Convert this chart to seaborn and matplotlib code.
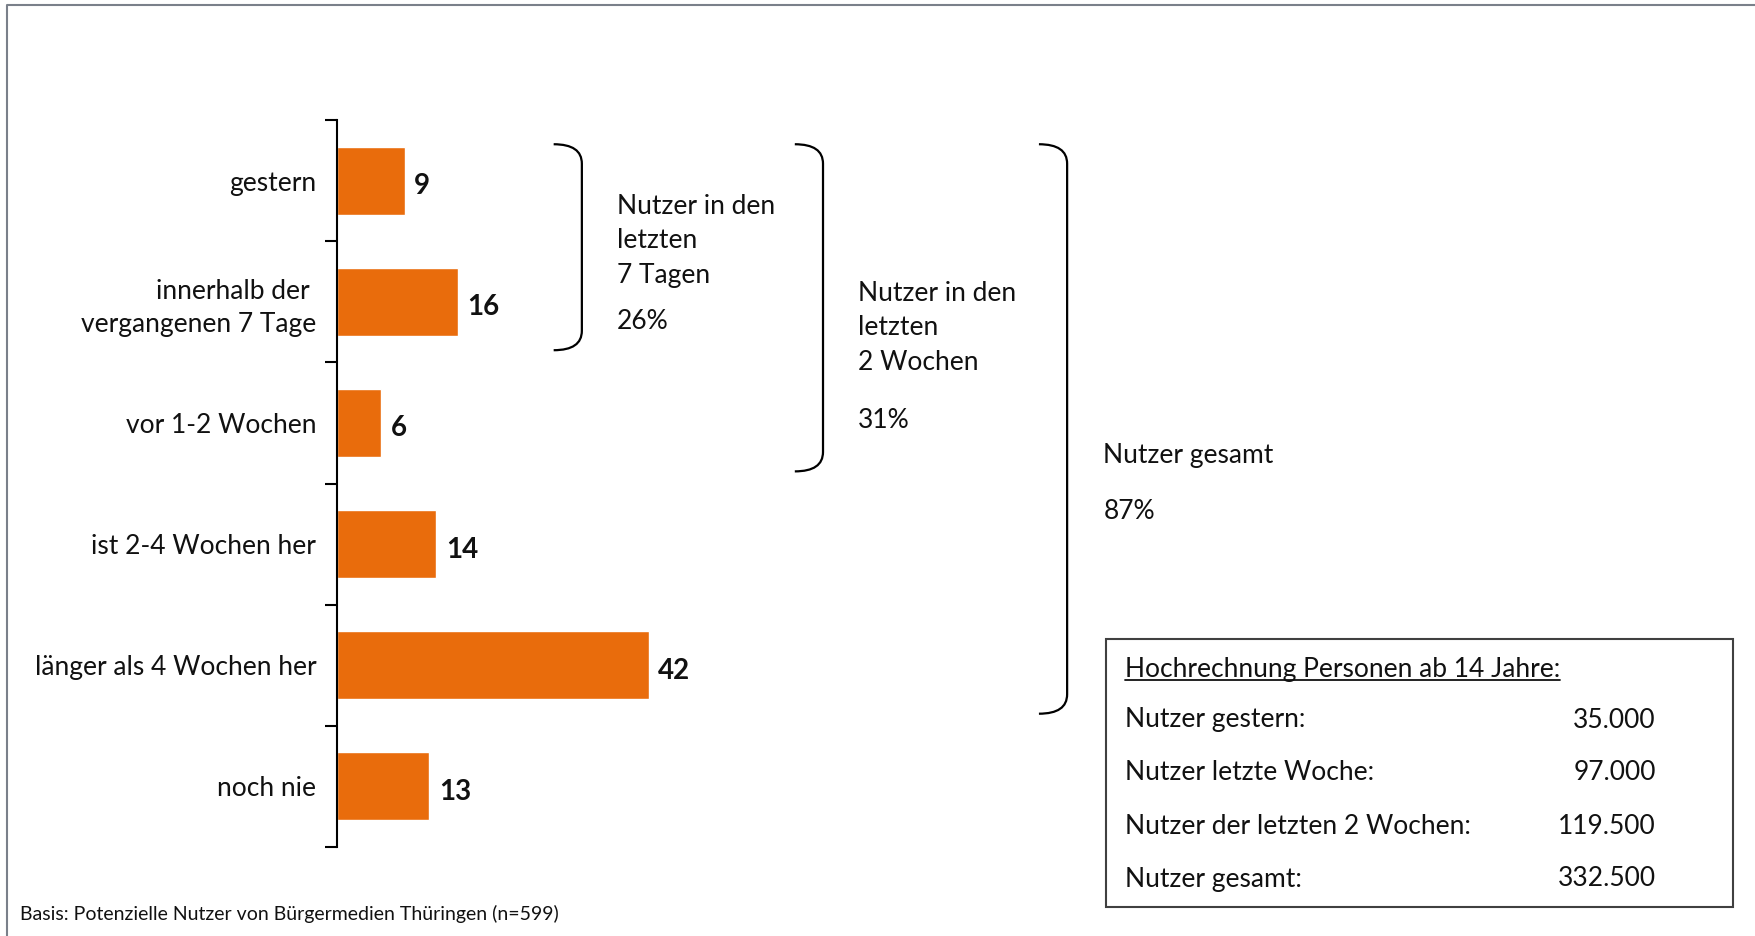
import matplotlib
matplotlib.use("Agg")
import matplotlib.pyplot as plt
import seaborn as sns
import pandas as pd
from matplotlib.path import Path
from matplotlib.patches import PathPatch, Rectangle
from matplotlib.lines import Line2D

# data (bar lengths, labels as printed)
categories = ["gestern", "innerhalb der \nvergangenen 7 Tage", "vor 1-2 Wochen",
              "ist 2-4 Wochen her", "länger als 4 Wochen her", "noch nie"]
values = [9.1, 16.3, 5.9, 13.4, 42.0, 12.4]
value_labels = ["9", "16", "6", "14", "42", "13"]

group_lines = [["Nutzer in den", "letzten", "7 Tagen"],
               ["Nutzer in den", "letzten", "2 Wochen"],
               ["Nutzer gesamt"]]
group_pct = ["26%", "31%", "87%"]
group_last = [1, 2, 4]

box_title = "Hochrechnung Personen ab 14 Jahre:"
box_labels = ["Nutzer gestern:", "Nutzer letzte Woche:", "Nutzer der letzten 2 Wochen:", "Nutzer gesamt:"]
box_values = ["35.000", "97.000", "119.500", "332.500"]

footnote = "Basis: Potenzielle Nutzer von Bürgermedien Thüringen (n=599)"

sns.set_style("white")
plt.rcParams["font.family"] = ["Lato", "DejaVu Sans"]

BAR = "#E96C0C"
TXT = "#111111"
W, H = 1755, 936
fig = plt.figure(figsize=(W / 100, H / 100), dpi=100)

ax = fig.add_axes([337 / W, 1 - 847 / H, 1 - 337 / W, (847 - 120) / H])
df = pd.DataFrame({"cat": categories, "val": values})
sns.barplot(data=df, x="val", y="cat", orient="h", color=BAR, saturation=1,
            width=0.56, ax=ax)
ax.set_xlim(0, 1418 / 7.42)
ax.set_ylim(5.5, -0.5)
ax.set_xlabel("")
ax.set_ylabel("")
for s in ["top", "right", "bottom"]:
    ax.spines[s].set_visible(False)
ax.spines["left"].set_color("black")
ax.spines["left"].set_linewidth(1.5)
ax.set_xticks([])
ax.set_yticks(range(len(categories)))
ax.set_yticklabels(categories, fontsize=19, color=TXT)
ax.set_yticks([i - 0.5 for i in range(len(categories) + 1)], minor=True)
ax.tick_params(axis="y", which="major", left=True, length=0, pad=15)
ax.tick_params(axis="y", which="minor", left=True, length=9, width=1.5,
               direction="out", color="black")
for lab in ax.get_yticklabels():
    lab.set_multialignment("right")
    lab.set_linespacing(1.4)

for bar, lab in zip(ax.containers[0], value_labels):
    ax.annotate(lab, (bar.get_width(), bar.get_y() + bar.get_height() / 2),
                xytext=(7, -4), textcoords="offset points", va="center", ha="left",
                fontsize=20, fontweight="bold", color=TXT)

# brackets with group annotations
brk_x = [29.2, 61.7, 94.6]
txt_x = [37.7, 70.2, 103.3]
txt_y0 = [0.21, 0.93, 2.27]
pct_y = [1.16, 1.98, 2.73]
for i in range(3):
    x0, x1 = brk_x[i], brk_x[i] + 3.8
    yt, yb = -0.30, group_last[i] + 0.40
    r = 0.16
    verts = [(x0, yt), (x1, yt), (x1, yt + r), (x1, yb - r), (x1, yb), (x0, yb)]
    codes = [Path.MOVETO, Path.CURVE3, Path.CURVE3, Path.LINETO, Path.CURVE3, Path.CURVE3]
    ax.add_patch(PathPatch(Path(verts, codes), fill=False, lw=1.6, ec="black", clip_on=False))
    for j, line in enumerate(group_lines[i]):
        ax.text(txt_x[i], txt_y0[i] + j * 0.285, line, fontsize=19, va="center",
                ha="left", color=TXT, clip_on=False)
    ax.text(txt_x[i], pct_y[i], group_pct[i], fontsize=19, va="center", ha="left",
            color=TXT, clip_on=False)

# projection box
fig.add_artist(Rectangle((1106 / W, 1 - 907 / H), (1733 - 1106) / W, (907 - 639) / H,
                         transform=fig.transFigure, fill=False, ec="#404040", lw=1.5))
title = fig.text(1125 / W, 1 - 669 / H, box_title, fontsize=19, va="center", ha="left", color=TXT)
row_y = [720, 773, 826, 879]
for lab, val, y in zip(box_labels, box_values, row_y):
    fig.text(1125 / W, 1 - y / H, lab, fontsize=19, va="center", ha="left", color=TXT)
    fig.text(1656 / W, 1 - y / H, val, fontsize=19, va="center", ha="right", color=TXT)

fig.text(20 / W, 1 - 914 / H, footnote, fontsize=14, va="center", ha="left", color=TXT)

# outer frame (cropped on right and bottom)
fig.add_artist(Line2D([7 / W, 7 / W, 1], [0, 1 - 5 / H, 1 - 5 / H], transform=fig.transFigure,
                      color="#7a808a", lw=1.5))

# underline for box title
fig.canvas.draw()
bb = title.get_window_extent().transformed(fig.transFigure.inverted())
fig.add_artist(Line2D([bb.x0, bb.x1], [bb.y0 + 0.002, bb.y0 + 0.002], transform=fig.transFigure,
                      color=TXT, lw=1.3))

fig.savefig("out.png", dpi=100)
